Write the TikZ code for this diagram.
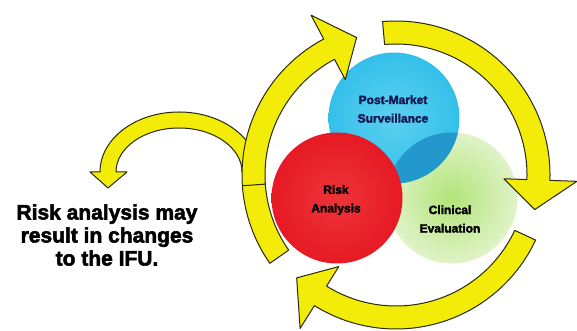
\documentclass[tikz,border=0pt]{standalone}
\usepackage{fontspec}
\setmainfont{Liberation Sans}[BoldFeatures={FakeBold=2.5}]
\definecolor{arrowyellow}{RGB}{242,236,8}
\definecolor{arrowedge}{RGB}{40,40,20}
\definecolor{pmsblue}{RGB}{52,192,234}
\definecolor{pmsbluelight}{RGB}{92,208,240}
\definecolor{overlapblue}{RGB}{34,152,204}
\definecolor{riskred}{RGB}{230,26,36}
\definecolor{riskredlight}{RGB}{238,52,56}
\definecolor{clingreen}{RGB}{178,228,120}
\definecolor{clingreenlight}{RGB}{224,243,200}
\definecolor{navytext}{RGB}{18,26,84}

% one yellow band of the cycle: start angle, angle of the head, angle of the tip
\newcommand{\cyclearrow}[3]{%
  \draw[bandarrow] (#1:154) arc[start angle=#1,end angle=#2,radius=154]
    -- (#2:181) -- (#3:143) -- (#2:108) -- (#2:131)
    arc[start angle=#2,end angle=#1,radius=131] -- cycle;}

\begin{document}
\begin{tikzpicture}[x=1pt,y=1pt,
  bandarrow/.style={fill=arrowyellow,draw=arrowedge,line width=1pt,line join=round},
  bubble/.style={circle,minimum size=131pt,inner sep=0pt},
  bubbletext/.style={font=\bfseries\fontsize{12}{18.5}\selectfont,align=center}]
\useasboundingbox (0,0) rectangle (577,331);

% the three areas
\node[bubble,inner color=clingreen,outer color=clingreenlight] (clin) at (452,133) {};
\node[bubble,inner color=pmsbluelight,outer color=pmsblue] (pms) at (394,213) {};
\begin{scope}
  \clip (clin.center) circle (65.5);
  \fill[overlapblue] (pms.center) circle (65.5);
\end{scope}
\node[bubble,inner color=riskredlight,outer color=riskred] (risk) at (337,133) {};

\node[bubbletext,text=navytext] (pmslabel) at (393,222) {Post-Market\\Surveillance};
\node[bubbletext] (risklabel) at (336,131) {Risk\\Analysis};
\node[bubbletext] (clinlabel) at (450,112) {Clinical\\Evaluation};

% branch off towards the note
\draw[bandarrow] (258,159) arc[start angle=0,end angle=180,x radius=79,y radius=60]
  -- (90,159) -- (108,143) -- (127,159) -- (116,159)
  arc[start angle=180,end angle=0,x radius=63,y radius=44] -- cycle;

% the cycle
\begin{scope}[shift={(396,156)}]
  \cyclearrow{95}{-2}{-14}
  \cyclearrow{-25}{-122}{-134}
  \cyclearrow{215}{118}{106}
  \draw[arrowedge,line width=1pt] (184:131) -- (184:154);
\end{scope}

\node[font=\bfseries\fontsize{21}{23}\selectfont,align=center] (ifunote) at (107,96)
  {Risk analysis may\\result in changes\\to the IFU.};
\end{tikzpicture}
\end{document}
